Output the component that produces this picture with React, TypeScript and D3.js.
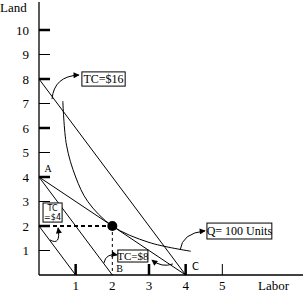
import React from "react";
import * as d3 from "d3";

// isocost lines: [labor0, land0, labor1, land1]
const isocosts = [
  [0, 8, 4, 0],
  [0, 4, 4, 0],
  [0, 4, 2, 0],
  [0, 2, 1, 0],
];

// isoquant Q=100, points
const isoquant: [number, number][] = [
  [0.65, 7.1],
  [0.75, 5.3],
  [1.0, 4.0],
  [1.33, 3.0],
  [2.0, 2.0],
  [3.0, 1.33],
  [4.14, 0.97],
];

const yTicks = [1, 2, 3, 4, 5, 6, 7, 8, 9, 10];
const yMajor = [2, 4, 6, 8, 10];
const xTicks = [1, 2, 3, 4, 5];
const xTickMarks = [1, 3, 4, 5];
const xMajor = [1, 3, 4];

const optimum: [number, number] = [2, 2];

// label boxes: text, [x0, y0, x1, y1] in data units
const boxes = [
  { lines: ["TC=$16"], box: [1.17, 8.29, 2.35, 7.71], size: 12, font: "serif" },
  { lines: ["TC=$8"], box: [2.15, 1.02, 2.97, 0.53], size: 11, font: "serif" },
  { lines: ["Q= 100 Units"], box: [4.58, 2.12, 6.35, 1.47], size: 12, font: "serif" },
  { lines: ["TC", "=$4"], box: [0.11, 2.94, 0.63, 2.16], size: 8, font: "sans" },
];

// curved arrows: start, control, tip (data units)
const arrows = [
  [[0.355, 7.18], [0.41, 8.12], [1.09, 8.16]],
  [[1.77, 0.49], [1.83, 0.9], [2.13, 0.82]],
  [[3.65, 0.45], [3.35, 0.29], [3.08, 0.61]],
  [[3.85, 1.02], [3.9, 1.71], [4.53, 1.8]],
  [[0.3, 1.43], [0.6, 1.18], [0.52, 1.92]],
];

const pointLabels = [
  { t: "A", at: [0.25, 4.2], font: "serif" },
  { t: "B", at: [2.2, 0.12], font: "serif" },
  { t: "C", at: [4.27, 0.2], font: "sans" },
];

const W = 303;
const H = 292;
const SERIF = "'Liberation Serif', 'Times New Roman', serif";
const SANS = "'DejaVu Sans', sans-serif";

export default function App() {
  const x = d3.scaleLinear([0, 7.2], [39, 303]);
  const y = d3.scaleLinear([0, 10], [275, 30]);
  const curve = d3
    .line<[number, number]>()
    .x((d) => x(d[0]))
    .y((d) => y(d[1]))
    .curve(d3.curveCatmullRom);

  return (
    <svg
      width={W}
      height={H}
      style={{ position: "absolute", left: 0, top: 0, background: "#fff" }}
      fontFamily={SERIF}
    >
      <defs>
        <marker id="ah" viewBox="0 0 10 10" refX={9} refY={5} markerWidth={7} markerHeight={6} orient="auto">
          <path d="M0,0L10,5L0,10z" fill="#000" />
        </marker>
      </defs>

      {/* axes */}
      <line x1={x(0)} x2={x(0)} y1={2} y2={y(0)} stroke="#000" strokeWidth={1.3} />
      <line x1={x(0)} x2={W} y1={y(0)} y2={y(0)} stroke="#000" strokeWidth={1.3} />
      {yTicks.map((t) => (
        <g key={"y" + t}>
          <line
            x1={x(0)}
            x2={x(0) + 11}
            y1={y(t)}
            y2={y(t)}
            stroke="#000"
            strokeWidth={yMajor.includes(t) ? 2.5 : 1}
          />
          <text x={29} y={y(t) + 4.5} fontSize={13} textAnchor="end">
            {t}
          </text>
        </g>
      ))}
      {xTickMarks.map((t) => (
        <line
          key={"xm" + t}
          x1={x(t)}
          x2={x(t)}
          y1={y(0)}
          y2={y(0) - 11}
          stroke="#000"
          strokeWidth={xMajor.includes(t) ? 2.5 : 1}
        />
      ))}
      {xTicks.map((t) => (
        <text key={"x" + t} x={x(t)} y={290} fontSize={13} textAnchor="middle">
          {t}
        </text>
      ))}
      <text x={0} y={12} fontSize={13}>Land</text>
      <text x={258} y={290} fontSize={13}>Labor</text>

      {/* isocost lines */}
      {isocosts.map((l, i) => (
        <line key={"c" + i} x1={x(l[0])} y1={y(l[1])} x2={x(l[2])} y2={y(l[3])} stroke="#000" strokeWidth={1} />
      ))}

      {/* isoquant */}
      <path d={curve(isoquant) ?? ""} fill="none" stroke="#000" strokeWidth={1} />

      {/* dashed guides */}
      <line
        x1={x(0)}
        x2={x(optimum[0])}
        y1={y(optimum[1])}
        y2={y(optimum[1])}
        stroke="#000"
        strokeWidth={2}
        strokeDasharray="4,3"
      />
      <line
        x1={x(optimum[0])}
        x2={x(optimum[0])}
        y1={y(optimum[1])}
        y2={y(0)}
        stroke="#000"
        strokeWidth={1}
        strokeDasharray="3,3"
      />
      <circle cx={x(optimum[0])} cy={y(optimum[1])} r={5} fill="#000" />

      {/* arrows */}
      {arrows.map((a, i) => (
        <path
          key={"a" + i}
          d={`M${x(a[0][0])},${y(a[0][1])}Q${x(a[1][0])},${y(a[1][1])} ${x(a[2][0])},${y(a[2][1])}`}
          fill="none"
          stroke="#000"
          strokeWidth={1}
          markerEnd="url(#ah)"
        />
      ))}

      {/* label boxes */}
      {boxes.map((b, i) => {
        const x0 = x(b.box[0]);
        const y0 = y(b.box[1]);
        const w = x(b.box[2]) - x0;
        const h = y(b.box[3]) - y0;
        return (
          <g key={"b" + i}>
            <rect x={x0} y={y0} width={w} height={h} fill="#fff" stroke="#000" strokeWidth={1} />
            {b.lines.map((s, j) => (
              <text
                key={j}
                x={x0 + w / 2}
                y={
                  b.lines.length === 1
                    ? y0 + h / 2 + b.size * 0.35
                    : y0 + 8 + j * 9
                }
                fontSize={b.size}
                fontFamily={b.font === "sans" ? SANS : SERIF}
                textAnchor="middle"
              >
                {s}
              </text>
            ))}
          </g>
        );
      })}

      {pointLabels.map((p) => (
        <text
          key={p.t}
          x={x(p.at[0])}
          y={y(p.at[1])}
          fontSize={10}
          fontFamily={p.font === "sans" ? SANS : SERIF}
          textAnchor="middle"
        >
          {p.t}
        </text>
      ))}
    </svg>
  );
}
